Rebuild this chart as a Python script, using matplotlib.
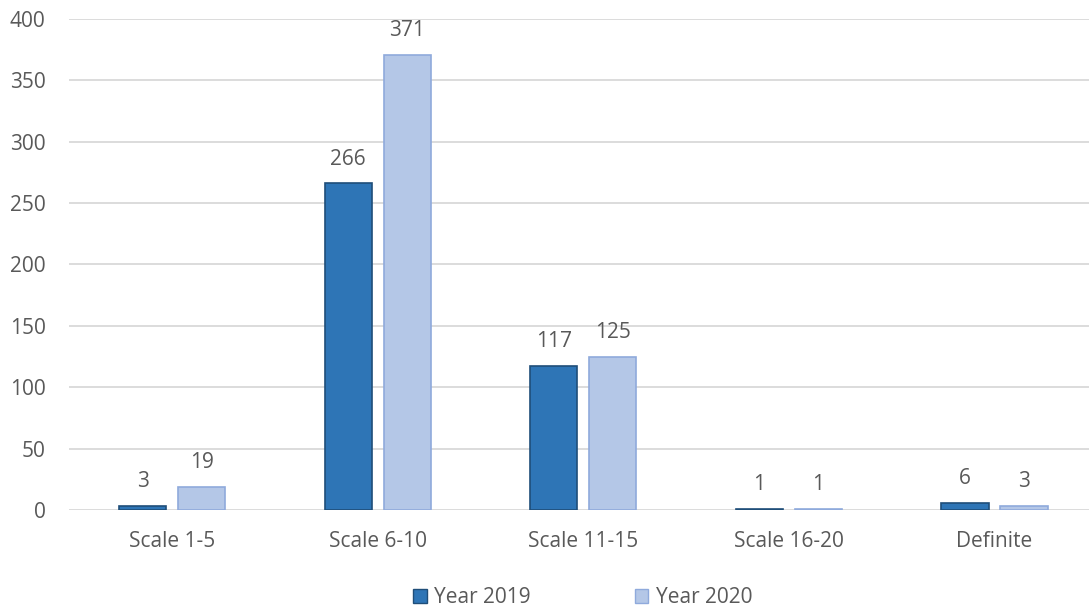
import matplotlib.pyplot as plt
import numpy as np
from matplotlib.patches import Patch

# Data
categories = ['Scale 1-5', 'Scale 6-10', 'Scale 11-15', 'Scale 16-20', 'Definite']
year_2019 = [3, 266, 117, 1, 6]
year_2020 = [19, 371, 125, 1, 3]

plt.rcParams['font.family'] = ['Open Sans', 'DejaVu Sans']
text_color = '#595959'
fs = 15

fig = plt.figure(figsize=(10.89, 6.10), dpi=100)
ax = fig.add_axes([0.0636, 0.164, 0.944, 0.805])

x = np.arange(len(categories))
bar_width = 0.229
offset = 0.1435

dark = '#2E75B6'
dark_edge = '#1F4E79'
light = '#B4C7E7'
light_edge = '#8FAADC'

b1 = ax.bar(x - offset, year_2019, width=bar_width, color=dark,
            edgecolor=dark_edge, linewidth=1.2, zorder=3)
b2 = ax.bar(x + offset, year_2020, width=bar_width, color=light,
            edgecolor=light_edge, linewidth=1.2, zorder=3)

# Value labels above each bar
for bars, vals in ((b1, year_2019), (b2, year_2020)):
    for rect, v in zip(bars, vals):
        ax.annotate(f'{v}', (rect.get_x() + rect.get_width() / 2, v),
                    xytext=(0, 10), textcoords='offset points',
                    ha='center', va='bottom', fontsize=fs, color=text_color)

ax.set_xlim(-0.5, len(categories) - 0.5)
ax.set_ylim(0, 400)
ax.set_yticks(np.arange(0, 401, 50))
ax.set_xticks(x)
ax.set_xticklabels(categories)
ax.tick_params(axis='both', length=0, labelsize=fs, labelcolor=text_color)
ax.tick_params(axis='x', pad=15)
ax.tick_params(axis='y', pad=17)
ax.grid(axis='y', color='#D9D9D9', linewidth=1.3, zorder=0)
for s in ax.spines.values():
    s.set_visible(False)

legend_elements = [
    Patch(facecolor=dark, edgecolor=dark_edge, label='Year 2019'),
    Patch(facecolor=light, edgecolor=light_edge, label='Year 2020'),
]
fig.legend(handles=legend_elements, loc='lower center', ncol=2, frameon=False,
           fontsize=fs, labelcolor=text_color, bbox_to_anchor=(0.535, -0.028),
           handlelength=0.65, handleheight=0.65, handletextpad=0.35, columnspacing=5.0)

fig.savefig('out.png', dpi=100)
